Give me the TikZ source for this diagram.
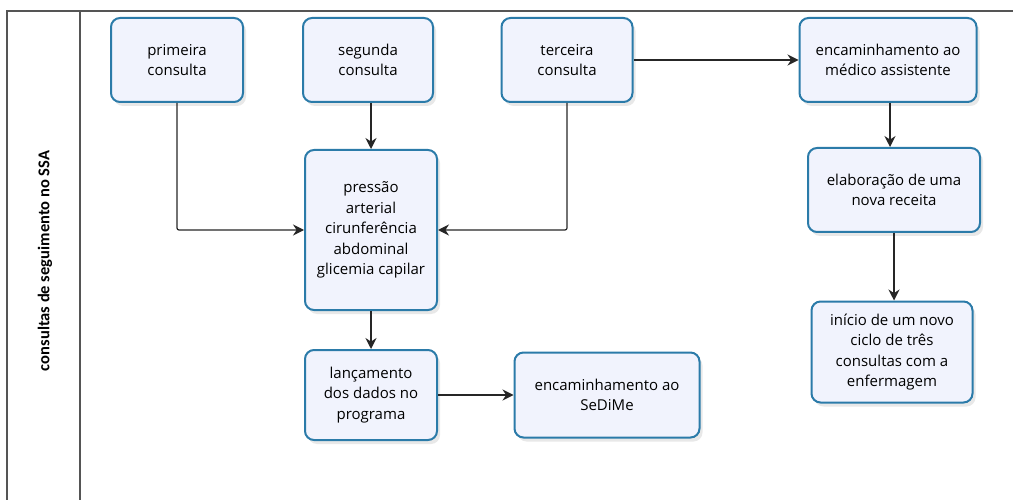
\documentclass[tikz,border=0pt]{standalone}
\usepackage{fontspec}
\setmainfont{Open Sans}
\newfontfamily\lanefont{Carlito}
\usepackage{tikz}
\usetikzlibrary{positioning,arrows.meta,shadows}
\definecolor{boxline}{HTML}{2B7BA9}
\definecolor{boxfill}{HTML}{F1F3FD}
\definecolor{frameline}{HTML}{555555}

\begin{document}
\begin{tikzpicture}[x=1pt, y=-1pt, align=center, font=\fontsize{15}{20.5}\selectfont,
    task/.style={draw=boxline, line width=2pt, fill=boxfill, rounded corners=9pt, inner sep=0pt,
        drop shadow={shadow xshift=3pt, shadow yshift=-4pt, opacity=0.15, fill=black!60}},
    flow/.style={-{Stealth[length=11pt, width=11pt]}, line width=1.2pt, draw=black!85}]
        \useasboundingbox (0,0) rectangle (1013,500);

        % swimlane frame
        \draw[frameline, line width=1.5pt] (7,500) |- (1013,11);
        \draw[frameline, line width=1.5pt] (80,11) -- (80,500);
        \node[rotate=90, font=\lanefont\bfseries\fontsize{16.5}{18}\selectfont] (lane) at (45,261) {consultas de seguimento no SSA};

        \node [task, minimum width=132pt, minimum height=84pt] (primeira) at (177,60) {primeira\\consulta};
        \node [task, minimum width=130pt, minimum height=84pt] (segunda) at (368,60) {segunda\\consulta};
        \node [task, minimum width=131pt, minimum height=84pt] (terceira) at (567,60) {terceira\\consulta};
        \node [task, minimum width=177pt, minimum height=84pt] (medico) at (888,60) {encaminhamento ao\\médico assistente};
        \node [task, minimum width=132pt, minimum height=160pt] (medidas) at (371,230) {pressão\\arterial\\cirunferência\\abdominal\\glicemia capilar};
        \node [task, minimum width=172pt, minimum height=84pt] (receita) at (894,190) {elaboração de uma\\nova receita};
        \node [task, minimum width=161pt, minimum height=101pt] (ciclo) at (892,352) {início de um novo\\ciclo de três\\consultas com a\\enfermagem};
        \node [task, minimum width=132pt, minimum height=90pt] (lancamento) at (371,395) {lançamento\\dos dados no\\programa};
        \node [task, minimum width=185pt, minimum height=85pt] (sedime) at (607,395) {encaminhamento ao\\SeDiMe};

        \draw[flow, rounded corners=2pt] (primeira.south) |- (medidas.west);
        \draw[flow] (medidas.north |- segunda.south) -- (medidas.north);
        \draw[flow, rounded corners=2pt] (terceira.south) |- (medidas.east);
        \draw[flow] (terceira.east) -- (medico.west);
        \draw[flow] (medico.south -| 890,0) -- (receita.north -| 890,0);
        \draw[flow] (receita.south) -- (receita.south |- ciclo.north);
        \draw[flow] (medidas.south) -- (lancamento.north);
        \draw[flow] (lancamento.east) -- (sedime.west);
    \end{tikzpicture}
\end{document}
